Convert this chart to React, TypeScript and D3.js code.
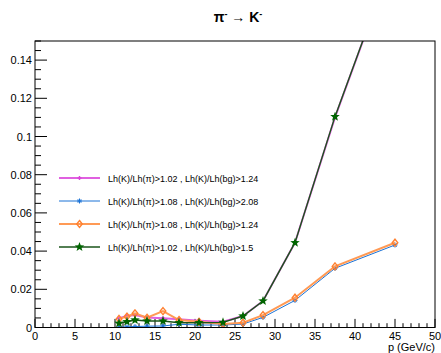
import React from "react";
import * as d3 from "d3";

const momenta = [10.5, 11.5, 12.5, 14, 16, 18, 20.5, 23.5, 26, 28.5, 32.5, 37.5, 45];
const magentaVals = [0.0048, 0.006, 0.0065, 0.0052, 0.0048, 0.0043, 0.0036, 0.003, 0.006, 0.0139, 0.0444, 0.11, 0.196];
const blueVals = [0.0002, 0.0003, 0.0005, 0.0007, 0.0008, 0.0017, 0.0013, 0.0013, 0.0018, 0.0053, 0.0142, 0.031, 0.0432];
const orangeVals = [0.0045, 0.0057, 0.0074, 0.0051, 0.0086, 0.0039, 0.003, 0.0018, 0.0025, 0.0065, 0.0156, 0.032, 0.0444];
const greenVals = [0.0022, 0.003, 0.0039, 0.0034, 0.0034, 0.0025, 0.0025, 0.0027, 0.006, 0.0139, 0.0444, 0.1104, 0.196];

const legendLabels = [
  "Lh(K)/Lh(\u03c0)>1.02 , Lh(K)/Lh(bg)>1.24",
  "Lh(K)/Lh(\u03c0)>1.08 , Lh(K)/Lh(bg)>2.08",
  "Lh(K)/Lh(\u03c0)>1.08 , Lh(K)/Lh(bg)>1.24",
  "Lh(K)/Lh(\u03c0)>1.02 , Lh(K)/Lh(bg)>1.5",
];
const xTicks = [0, 5, 10, 15, 20, 25, 30, 35, 40, 45, 50];
const yTicks = [0, 0.02, 0.04, 0.06, 0.08, 0.1, 0.12, 0.14];

const W = 441, H = 353;
const L = 35, R = 435, T = 41, B = 327.5;
const FONT = "'Liberation Sans', Arial, Helvetica, sans-serif";

type Series = { vals: number[]; color: string; lineColor: string; width: number; marker: string };

const series: Series[] = [
  { vals: magentaVals, color: "#d946d9", lineColor: "#e060e0", width: 2, marker: "dot" },
  { vals: blueVals, color: "#1a72d6", lineColor: "#1a72d6", width: 1, marker: "asterisk" },
  { vals: orangeVals, color: "#ff8030", lineColor: "#ff9a55", width: 2, marker: "diamond" },
  { vals: greenVals, color: "#006400", lineColor: "#1a551a", width: 1.4, marker: "star" },
];

function Marker({ type, x, y, color }: { type: string; x: number; y: number; color: string }) {
  if (type === "dot") {
    return <g><line x1={x - 2} x2={x + 2} y1={y} y2={y} stroke={color} strokeWidth={1.5} /><line x1={x} x2={x} y1={y - 2} y2={y + 2} stroke={color} strokeWidth={1.5} /></g>;
  }
  if (type === "asterisk") {
    const r = 2.5;
    return (
      <g stroke={color} strokeWidth={1}>
        <line x1={x - r} x2={x + r} y1={y} y2={y} />
        <line x1={x} x2={x} y1={y - r} y2={y + r} />
        <line x1={x - r * 0.7} x2={x + r * 0.7} y1={y - r * 0.7} y2={y + r * 0.7} />
        <line x1={x - r * 0.7} x2={x + r * 0.7} y1={y + r * 0.7} y2={y - r * 0.7} />
      </g>
    );
  }
  if (type === "diamond") {
    const r = 3.5;
    return <path d={`M${x},${y - r}L${x + r * 0.8},${y}L${x},${y + r}L${x - r * 0.8},${y}Z`} fill="none" stroke={color} strokeWidth={1.4} />;
  }
  const pts: string[] = [];
  const ro = 5, ri = 2.1;
  for (let i = 0; i < 10; i++) {
    const a = -Math.PI / 2 + (i * Math.PI) / 5;
    const rr = i % 2 === 0 ? ro : ri;
    pts.push(`${x + rr * Math.cos(a)},${y + rr * Math.sin(a)}`);
  }
  return <path d={`M${pts.join("L")}Z`} fill={color} />;
}

export default function App() {
  const x = d3.scaleLinear().domain([0, 50]).range([L, R]);
  const y = d3.scaleLinear().domain([0, 0.15]).range([B, T]);
  const line = d3.line<number>().x((_, i) => x(momenta[i])).y((d) => y(d));

  const xMinor = d3.range(0, 51, 1);
  const yMinor = d3.range(0, 0.1501, 0.005);
  const legendY = [178, 201, 224, 247];

  return (
    <svg width={W} height={H} style={{ position: "absolute", left: 0, top: 0, background: "#fff" }} fontFamily={FONT}>
      <defs>
        <clipPath id="frame"><rect x={L} y={T} width={R - L} height={B - T} /></clipPath>
      </defs>
      <rect width={W} height={H} fill="#fff" />
      <text x={(L + R) / 2 + 3} y={22} textAnchor="middle" fontSize={14} fontWeight="bold" fill="#000">
        {"\u03c0"}<tspan dy={-5} fontSize={9}>-</tspan><tspan dy={5}>{" \u2192 K"}</tspan><tspan dy={-5} fontSize={9}>-</tspan>
      </text>

      {xMinor.map((v) => {
        const major = v % 5 === 0;
        return <line key={"xm" + v} x1={x(v)} x2={x(v)} y1={B} y2={B - (major ? 8.6 : 4.3)} stroke="#000" strokeWidth={1} />;
      })}
      {xTicks.map((v) => (
        <text key={"xt" + v} x={x(v)} y={340} textAnchor="middle" fontSize={11}>{v}</text>
      ))}
      <text x={R} y={351} textAnchor="end" fontSize={11}>p (GeV/c)</text>

      {yMinor.map((v, i) => {
        const major = i % 4 === 0;
        return <line key={"ym" + i} x1={L} x2={L + (major ? 12 : 6)} y1={y(v)} y2={y(v)} stroke="#000" strokeWidth={1} />;
      })}
      {yTicks.map((v) => (
        <text key={"yt" + v} x={32} y={y(v) + 4} textAnchor="end" fontSize={11}>{v === 0 ? "0" : String(v)}</text>
      ))}

      <g clipPath="url(#frame)">
        {series.map((s, si) => (
          <g key={"s" + si}>
            <path d={line(s.vals) || ""} fill="none" stroke={s.lineColor} strokeWidth={s.width} />
            {s.vals.map((v, i) =>
              y(v) >= T ? <Marker key={i} type={s.marker} x={x(momenta[i])} y={y(v)} color={s.color} /> : null
            )}
          </g>
        ))}
      </g>

      <rect x={L} y={T} width={R - L} height={B - T} fill="none" stroke="#000" strokeWidth={1} />

      {series.map((s, i) => (
        <g key={"lg" + i}>
          <line x1={59} x2={100} y1={legendY[i]} y2={legendY[i]} stroke={s.lineColor} strokeWidth={s.width} />
          <Marker type={s.marker} x={79.5} y={legendY[i]} color={s.color} />
          <text x={108} y={legendY[i] + 3.5} fontSize={9}>{legendLabels[i]}</text>
        </g>
      ))}
    </svg>
  );
}
